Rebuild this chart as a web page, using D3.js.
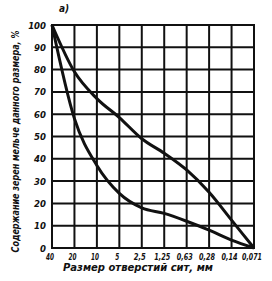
<!DOCTYPE html>
<html><head><meta charset="utf-8">
<script src="https://cdn.jsdelivr.net/npm/d3@7"></script>
<style>
html,body{margin:0;padding:0;background:#fff;}
text{font-family:"DejaVu Sans Condensed","DejaVu Sans",sans-serif;font-weight:bold;font-style:italic;fill:#111;}
</style></head>
<body><svg id="c" width="272" height="281"></svg>
<script>
const sieveLabels = ["40","20","10","5","2,5","1,25","0,63","0,28","0,14","0,071"];
const yTicks = [0,10,20,30,40,50,60,70,80,90,100];
// Upper curve: content (%) read at each sieve size
const upperValues = [100, 79, 67, 58.5, 49, 42.5, 35, 25, 12.5, 0];
// Lower curve: content (%) read at each sieve size
const lowerValues = [100, 58, 37, 24.5, 18, 15.5, 12, 8, 3.5, 0];
const panelLabel = "а)";
const yTitle = "Содержание зерен мельче данного размера, %";
const xTitle = "Размер отверстий сит, мм";

const svg = d3.select("#c");
const m = {l:52, r:18, t:25, b:33};
const W = 272, H = 281;
const x = d3.scalePoint().domain(d3.range(sieveLabels.length)).range([m.l, W - m.r]);
const y = d3.scaleLinear().domain([0,100]).range([H - m.b, m.t]);

const g = svg.append("g");
// vertical grid
g.selectAll("line.v").data(d3.range(sieveLabels.length)).join("line")
  .attr("x1", d=>x(d)).attr("x2", d=>x(d)).attr("y1", y(0)+1).attr("y2", y(100)-1)
  .attr("stroke","#111").attr("stroke-width",2);
// horizontal grid
g.selectAll("line.h").data(yTicks).join("line")
  .attr("x1", x(0)-1).attr("x2", x(sieveLabels.length-1)+1).attr("y1", d=>y(d)).attr("y2", d=>y(d))
  .attr("stroke","#111").attr("stroke-width",2);

// y tick labels
g.selectAll("text.yt").data(yTicks).join("text")
  .attr("x", x(0)-6).attr("y", d=>y(d)+3.5).attr("text-anchor","end")
  .attr("font-size",9.5).text(d=>d);
// x tick labels
g.selectAll("text.xt").data(sieveLabels).join("text")
  .attr("x", (d,i)=>x(i)-2).attr("y", y(0)+12).attr("text-anchor","middle")
  .attr("font-size",9.5)
  .attr("textLength", d=>d.length*4).attr("lengthAdjust","spacingAndGlyphs")
  .text(d=>d);

const line = d3.line().x((d,i)=>x(i)).y(d=>y(d)).curve(d3.curveMonotoneX);
[upperValues, lowerValues].forEach(vals=>{
  g.append("path").attr("d", line(vals)).attr("fill","none")
    .attr("stroke","#111").attr("stroke-width",3).attr("stroke-linejoin","round");
});

// titles
svg.append("text").attr("transform",`translate(19,${(y(0)+y(100))/2+5}) rotate(-90)`)
  .attr("text-anchor","middle").attr("font-size",10)
  .attr("textLength",222).attr("lengthAdjust","spacingAndGlyphs").text(yTitle);
svg.append("text").attr("x",138).attr("y",271).attr("text-anchor","middle")
  .attr("font-size",10).attr("textLength",150).attr("lengthAdjust","spacingAndGlyphs").text(xTitle);
svg.append("text").attr("x",64).attr("y",12).attr("text-anchor","middle")
  .attr("font-size",10).text(panelLabel);
</script></body></html>
